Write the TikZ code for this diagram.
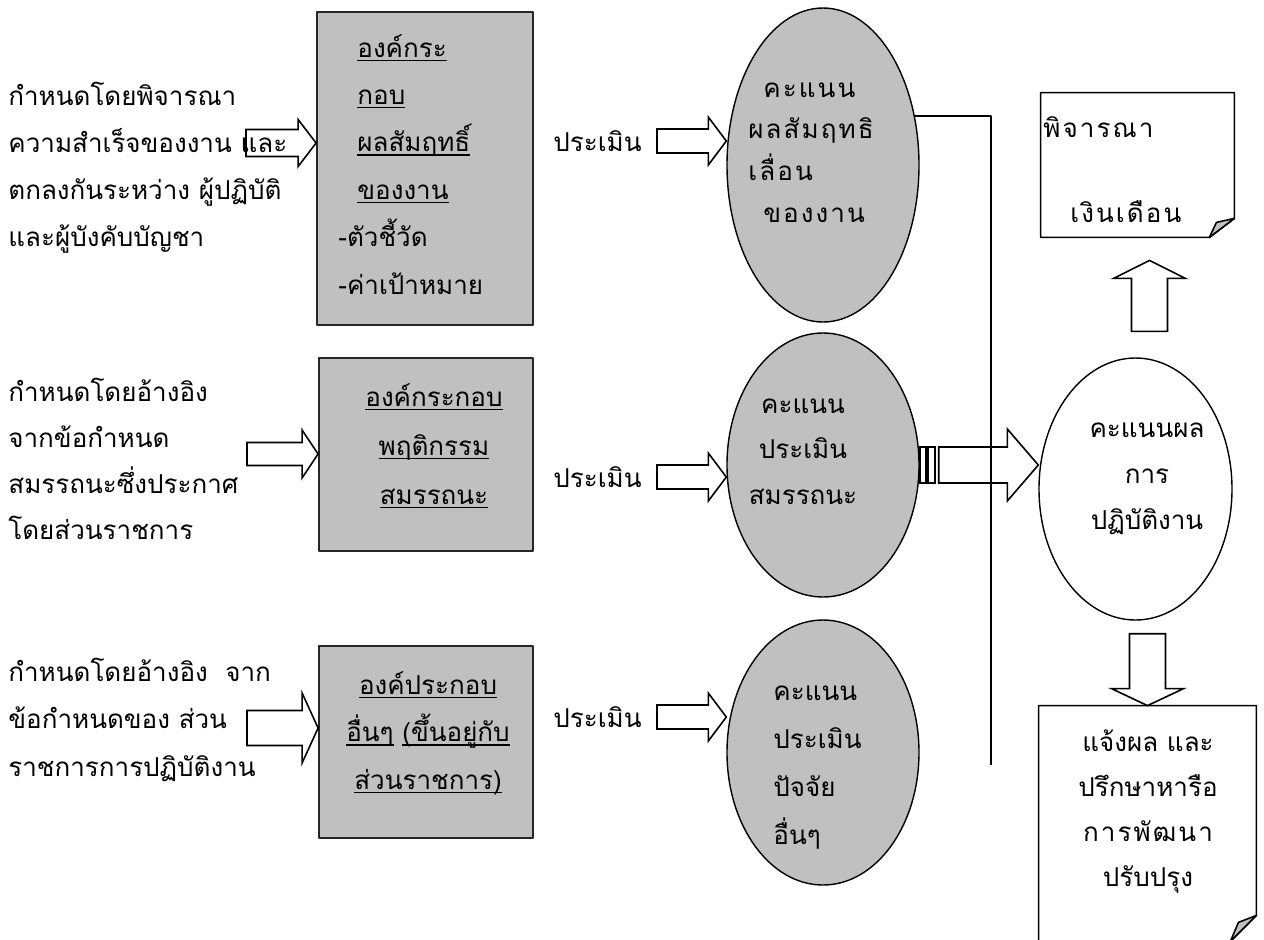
\documentclass[tikz,border=0pt]{standalone}
\usepackage{fontspec}
\setmainfont{Loma}[Script=Thai]
\newfontfamily\spacedfont{Loma}[Script=Thai,LetterSpace=8]
\usetikzlibrary{shapes.geometric,calc}
\definecolor{boxgray}{HTML}{C0C0C0}
\newcommand\uln[1]{\setbox0\hbox{#1}\rlap{\rule[-2pt]{\wd0}{0.7pt}}\box0\relax}
\tikzset{
	txt/.style={inner sep=0pt,font=\fontsize{13}{#1}\selectfont},
	txt/.default=23.5pt,
	spaced/.style={inner sep=0pt,font=\spacedfont\fontsize{13}{#1}\selectfont},
	gbox/.style={draw=black!85,line width=0.9pt,fill=boxgray,inner sep=0pt},
	goval/.style={ellipse,draw,line width=0.7pt,fill=boxgray,inner sep=0pt},
	arr/.style={line width=0.8pt,line join=miter},
	conn/.style={line width=0.8pt},
	docline/.style={line width=0.8pt},
	fatR/.style n args={3}{to path={let \p1=(\tikztostart),\p2=(\tikztotarget) in
		(\x1,\y2+#1) -- (\x2-#3,\y2+#1) -- (\x2-#3,\y2+#2) -- (\x2,\y2)
		-- (\x2-#3,\y2-#2) -- (\x2-#3,\y2-#1) -- (\x1,\y2-#1) -- cycle}},
	fatU/.style n args={3}{to path={let \p1=(\tikztostart),\p2=(\tikztotarget) in
		(\x2+#1,\y1) -- (\x2+#1,\y2-#3) -- (\x2+#2,\y2-#3) -- (\x2,\y2)
		-- (\x2-#2,\y2-#3) -- (\x2-#1,\y2-#3) -- (\x2-#1,\y1) -- cycle}},
	fatD/.style n args={3}{to path={let \p1=(\tikztostart),\p2=(\tikztotarget) in
		(\x2+#1,\y1) -- (\x2+#1,\y2+#3) -- (\x2+#2,\y2+#3) -- (\x2,\y2)
		-- (\x2-#2,\y2+#3) -- (\x2-#1,\y2+#3) -- (\x2-#1,\y1) -- cycle}},
}
\begin{document}
\begin{tikzpicture}[x=0.5pt,y=-0.5pt,line join=round]
	\useasboundingbox (0,0) rectangle (1264,939);
	
	\node[gbox,minimum width=108pt,minimum height=156.5pt] (box1) at (425,168.5) {};
	\node[gbox,minimum width=107pt,minimum height=96.5pt] (box2) at (426,454.5) {};
	\node[gbox,minimum width=107pt,minimum height=96pt] (box3) at (426,742) {};
	
	\node[goval,minimum width=96pt,minimum height=157pt] (e1) at (823,165) {};
	\node[goval,minimum width=96pt,minimum height=132pt] (e2) at (823,465) {};
	\node[goval,minimum width=96pt,minimum height=132.5pt] (e3) at (823,752.5) {};
	\node[goval,fill=white,minimum width=96.5pt,minimum height=131pt] (res) at (1135.5,489) {};
	
	\node[minimum width=96.5pt,minimum height=72pt,inner sep=0pt] (d1) at (1137.5,165) {};
	\draw[docline] (d1.north west) -- (d1.north east) -- ([yshift=9.5pt]d1.south east)
		-- ([xshift=-12.5pt]d1.south east) -- (d1.south west) -- cycle;
	\filldraw[docline,fill=boxgray] ([xshift=-12.5pt]d1.south east) -- ([shift={(-9pt,7.5pt)}]d1.south east)
		-- ([yshift=9.5pt]d1.south east) -- cycle;
	\node[minimum width=108.5pt,minimum height=117.5pt,inner sep=0pt] (d2) at (1147.5,823.5) {};
	\draw[docline] (d2.north west) -- (d2.north east) -- ([yshift=13pt]d2.south east)
		-- ([xshift=-13pt]d2.south east) -- (d2.south west) -- cycle;
	\filldraw[docline,fill=boxgray] ([xshift=-13pt]d2.south east) -- ([shift={(-9pt,9.5pt)}]d2.south east)
		-- ([yshift=13pt]d2.south east) -- cycle;
	
	\node[txt,anchor=base west,align=left] (lt1) at (8,246)
		{กำหนดโดยพิจารณา\\ความสำเร็จของงาน และ\\ตกลงกันระหว่าง ผู้ปฏิบัติ\\และผู้บังคับบัญชา};
	\node[txt=23pt,anchor=base west,align=left] (lt2) at (8,539)
		{กำหนดโดยอ้างอิง\\จากข้อกำหนด\\สมรรถนะซึ่งประกาศ\\โดยส่วนราชการ};
	\node[txt=23.75pt,anchor=base west,align=left] (lt3) at (8,776)
		{กำหนดโดยอ้างอิง~~จาก\\ข้อกำหนดของ ส่วน\\ราชการการปฏิบัติงาน};
	
	\node[txt=23.7pt,anchor=base west,align=left] (bt1) at (338,294)
		{\hspace*{9.5pt}\uln{องค์กระ}\\\hspace*{9.5pt}\uln{กอบ}\\\hspace*{9.5pt}\uln{ผลสัมฤทธิ์}\\
		\hspace*{9.5pt}\uln{ของงาน}\\-ตัวชี้วัด\\-ค่าเป้าหมาย};
	\node[txt=24.5pt,anchor=base,align=center] (bt2) at (434,504)
		{\uln{องค์กระกอบ}\\\uln{พฤติกรรม}\\\uln{สมรรถนะ}};
	\node[txt=23.75pt,anchor=base,align=center] (bt3) at (428,789)
		{\uln{องค์ประกอบ}\\\uln{อื่นๆ} \uln{(ขึ้นอยู่กับ}\\\uln{ส่วนราชการ)}};
	
	\node[txt,anchor=west] (ev1) at (553,141) {ประเมิน};
	\node[txt,anchor=west] (ev2) at (553,477) {ประเมิน};
	\node[txt,anchor=west] (ev3) at (553,717) {ประเมิน};
	
	\node[spaced=20.8pt,anchor=base west,align=left] (et1) at (748,222)
		{\hspace*{7.5pt}คะแนน\\ผลสัมฤทธิ\\เลื่อน\\\hspace*{7.5pt}ของงาน};
	\node[txt=22.75pt,anchor=base,align=center] (et2) at (803,504) {คะแนน\\ประเมิน\\สมรรถนะ};
	\node[txt=23.85pt,anchor=base west,align=left] (et3) at (773,844) {คะแนน\\ประเมิน\\ปัจจัย\\อื่นๆ};
	\node[txt=23pt,anchor=base,align=center] (rt) at (1147,529) {คะแนนผล\\การ\\ปฏิบัติงาน};
	\node[spaced=23.5pt,anchor=base west,align=left] (dt1) at (1043,222)
		{พิจารณา\\[19pt]\hspace*{13.5pt}เงินเดือน};
	\node[txt=22.5pt,anchor=base,align=center] (dt2) at (1148,886)
		{แจ้งผล และ\\ปรึกษาหารือ\\{\spacedfont การพัฒนา}\\ปรับปรุง};
	
	\coordinate (a1) at (246,143);
	\coordinate (a2) at (247,454);
	\coordinate (a3) at (247,728);
	\draw[arr,fatR={6.75pt}{11.75pt}{9pt}] (a1) to (a1 -| box1.west);
	\draw[arr,fatR={5.75pt}{12pt}{8pt}] (a2) to (a2 -| box2.west);
	\draw[arr,fatR={8.75pt}{17.5pt}{8pt}] (a3) to (a3 -| box3.west);
	
	\draw[arr,fatR={6pt}{12pt}{9pt}] ([xshift=7.5pt]ev1.east) to (ev1.west -| e1.west);
	\draw[arr,fatR={6pt}{12pt}{9pt}] ([xshift=7.5pt]ev2.east) to (ev2.west -| e2.west);
	\draw[arr,fatR={6pt}{12pt}{9pt}] ([xshift=7.5pt]ev3.east) to (ev3.west -| e3.west);
	
	\coordinate (vend) at (991,765);
	\draw[conn] (e1.28) -| (vend);
	
	\draw[arr] ([yshift=9pt]e2.east) rectangle ([xshift=3pt,yshift=-9pt]e2.east);
	\draw[arr] ([xshift=4pt,yshift=9pt]e2.east) rectangle ([xshift=7.5pt,yshift=-9pt]e2.east);
	\draw[arr,fatR={9pt}{18pt}{15.5pt}] ([xshift=9.5pt]e2.east) to (e2.east -| res.west);
	
	\draw[arr,fatU={9pt}{18pt}{9pt}] ([yshift=13pt]res.north) to ([xshift=6pt,yshift=-11.5pt]d1.south);
	\draw[arr,fatD={9pt}{18pt}{8.5pt}] ([yshift=-6.5pt]res.south) to (d2.north);
\end{tikzpicture}
\end{document}
